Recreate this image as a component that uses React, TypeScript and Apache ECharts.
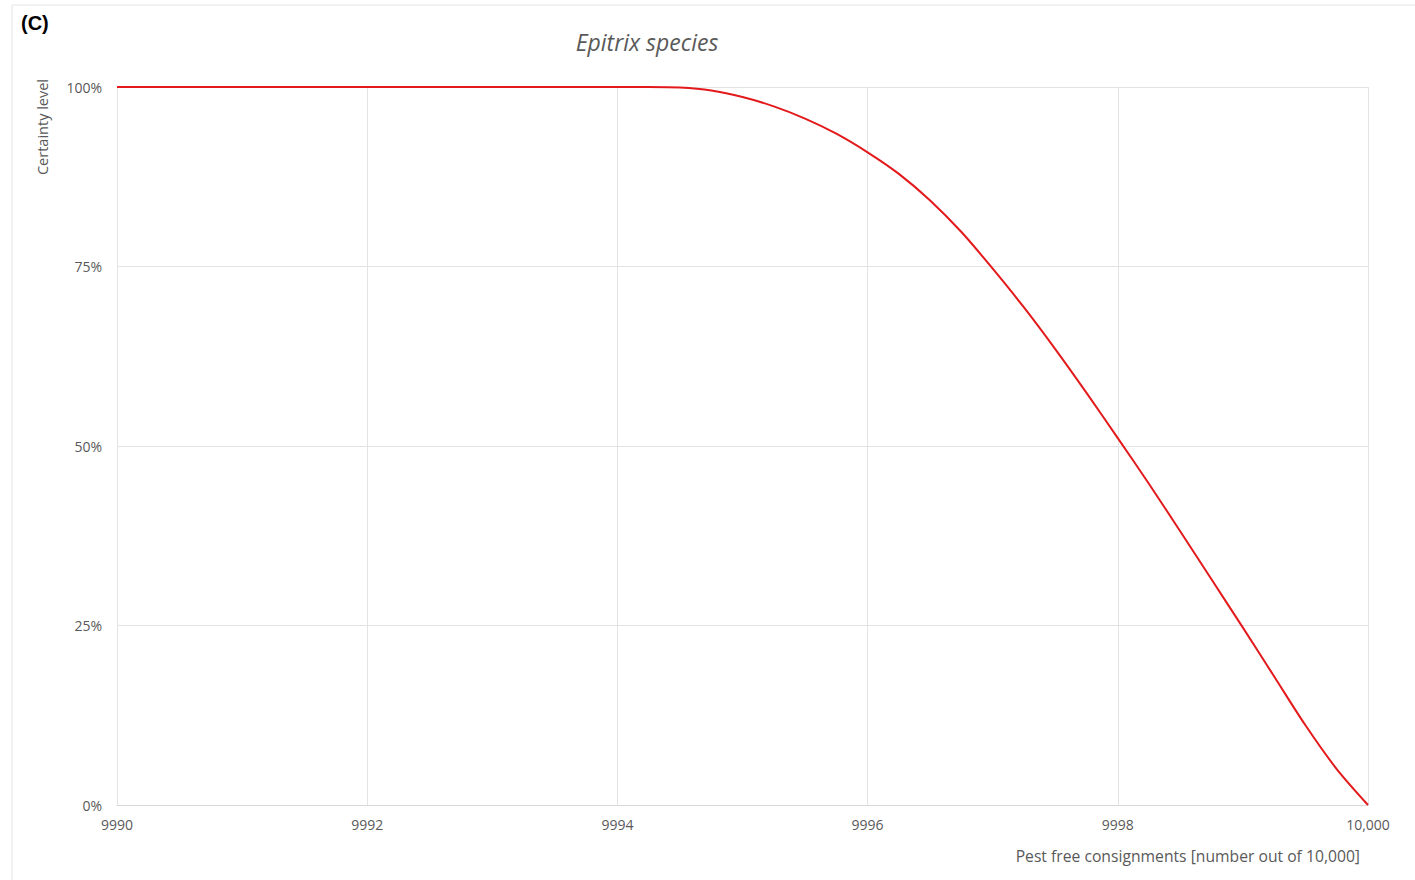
import React, { useEffect, useRef } from "react";
import * as echarts from "echarts";

const consignments: number[] = [
  9990, 9991, 9992, 9993, 9994, 9994.25, 9994.5, 9994.75, 9995, 9995.25, 9995.5, 9995.75,
  9996, 9996.25, 9996.5, 9996.75, 9997, 9997.25, 9997.5, 9997.75, 9998,
  9998.25, 9998.5, 9998.75, 9999, 9999.25, 9999.5, 9999.75, 10000,
];
const certainty: number[] = [
  100, 100, 100, 100, 100, 100, 99.92, 99.5, 98.6, 97.3, 95.6, 93.5,
  90.9, 87.9, 84.2, 79.8, 74.7, 69.3, 63.5, 57.4, 51.1,
  44.7, 38.1, 31.4, 24.7, 17.9, 11.1, 5.0, 0,
];
const xTicks: number[] = [9990, 9992, 9994, 9996, 9998, 10000];
const yTicks: number[] = [0, 25, 50, 75, 100];

const FONT = "'Open Sans', 'Noto Sans', sans-serif";
const GREY = "#595959";

export default function App() {
  const ref = useRef<HTMLDivElement>(null);
  useEffect(() => {
    if (!ref.current) return;
    const chart = echarts.init(ref.current, undefined, { renderer: "svg" });
    chart.setOption({
      animation: false,
      backgroundColor: "#ffffff",
      grid: {
        left: 117,
        right: 47,
        top: 87,
        bottom: 75,
        containLabel: false,
        outerBoundsMode: "none",
      },
      graphic: [
        {
          type: "rect",
          shape: { x: 12, y: 5, width: 1500, height: 1000 },
          style: { fill: "none", stroke: "#e4e4e4", lineWidth: 1 },
          silent: true,
          z: -1,
        },
        {
          type: "text",
          x: 21,
          y: 13,
          style: { text: "(C)", font: "bold 20px 'Liberation Sans', Arial, sans-serif", fill: "#000" },
        },
        {
          type: "text",
          x: 647,
          y: 42,
          style: {
            text: "Epitrix species",
            font: `italic 23px ${FONT}`,
            fill: GREY,
            textAlign: "center",
            textVerticalAlign: "middle",
          },
        },
        {
          type: "text",
          x: 42,
          y: 127,
          rotation: Math.PI / 2,
          style: {
            text: "Certainty level",
            font: `14.5px ${FONT}`,
            fill: GREY,
            textAlign: "center",
            textVerticalAlign: "middle",
          },
        },
      ],
      xAxis: {
        type: "value",
        min: xTicks[0],
        max: xTicks[xTicks.length - 1],
        interval: 2,
        name: "Pest free consignments [number out of 10,000]",
        nameLocation: "end",
        nameGap: 0,
        nameTextStyle: {
          fontFamily: FONT,
          fontSize: 15.7,
          color: GREY,
          align: "right",
          verticalAlign: "top",
          padding: [43, 8, 0, 0],
        },
        axisLine: { show: true, lineStyle: { color: "#d9d9d9", width: 1 } },
        axisTick: { show: false },
        axisLabel: {
          fontFamily: FONT,
          fontSize: 14,
          color: GREY,
          margin: 12,
          formatter: (v: number) => (v >= 10000 ? "10,000" : String(v)),
        },
        splitLine: { show: true, lineStyle: { color: "#e3e3e3", width: 1 } },
      },
      yAxis: {
        type: "value",
        min: yTicks[0],
        max: yTicks[yTicks.length - 1],
        interval: 25,
        axisLine: { show: false },
        axisTick: { show: false },
        axisLabel: {
          fontFamily: FONT,
          fontSize: 14,
          color: GREY,
          margin: 15,
          formatter: "{value}%",
        },
        splitLine: { show: true, lineStyle: { color: "#e3e3e3", width: 1 } },
      },
      series: [
        {
          type: "line",
          data: consignments.map((x, i) => [x, certainty[i]]),
          showSymbol: false,
          smooth: 0.3,
          lineStyle: { color: "#e31a1c", width: 2 },
          itemStyle: { color: "#e31a1c" },
        },
      ],
    });
    return () => chart.dispose();
  }, []);
  return (
    <div
      ref={ref}
      style={{ position: "absolute", left: 0, top: 0, width: 1415, height: 880 }}
    />
  );
}
